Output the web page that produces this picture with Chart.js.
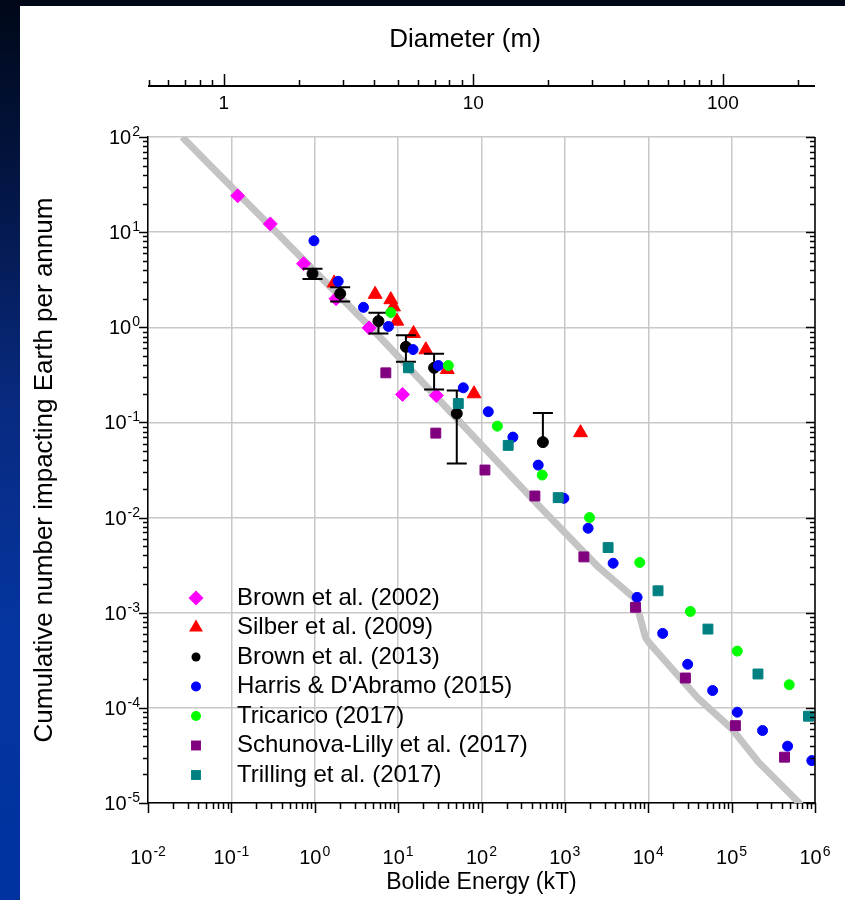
<!DOCTYPE html>
<html>
<head>
<meta charset="utf-8">
<script src="https://cdn.jsdelivr.net/npm/chart.js@4.4.1/dist/chart.umd.min.js"></script>
<style>
  html, body { margin: 0; padding: 0; }
  body {
    width: 845px; height: 900px; overflow: hidden; position: relative;
    background: linear-gradient(to bottom, #000818 0%, #031543 20%, #082a80 45%, #0535a0 70%, #0033a0 100%);
  }
  #panel { position: absolute; left: 20px; top: 6px; width: 825px; height: 894px; background: #fff; }
  canvas { display: block; }
</style>
</head>
<body>
<div id="panel"><canvas id="chart" width="825" height="894"></canvas></div>
<script>
// Data (energy in kT, cumulative number per annum)
const brown2002E = [0.119, 0.293, 0.734, 1.80, 4.49, 11.3, 28.7];
const brown2002N = [24.1, 12.2, 4.66, 2.0, 0.986, 0.197, 0.192];

const silberE = [1.71, 5.3, 8.17, 8.8, 9.65, 15.3, 21.5, 38.9, 81.3, 1540];
const silberN = [2.92, 2.22, 1.95, 1.64, 1.16, 0.86, 0.58, 0.36, 0.20, 0.078];

const brown2013E = [0.94, 2.02, 5.81, 12.4, 27, 50.5, 545];
const brown2013N = [3.66, 2.26, 1.16, 0.623, 0.375, 0.124, 0.0621];
const brown2013Hi = [4.13, 2.63, 1.42, 0.824, 0.526, 0.217, 0.126];
const brown2013Lo = [3.22, 1.87, 0.859, 0.433, 0.222, 0.0369, 0.0621];

const harrisE = [0.978, 1.91, 3.84, 7.65, 15.1, 30.4, 60.5, 120.6, 238, 479, 973, 1900, 3790, 7345,
  14900, 29700, 59200, 117000, 235000, 469000, 916000];
const harrisN = [8.12, 3.04, 1.62, 1.02, 0.583, 0.396, 0.231, 0.1295, 0.0701, 0.0356, 0.01595, 0.00772,
  0.00331, 0.00145, 0.000606, 0.000287, 0.000152, 9.0e-5, 5.77e-5, 3.96e-5, 2.79e-5];

const tricaricoE = [8.18, 40, 155, 535, 1977, 7910, 32000, 117000, 491000];
const tricaricoN = [1.43, 0.396, 0.0914, 0.028, 0.0100, 0.00337, 0.00103, 0.000395, 0.000175];

const schunovaE = [7.12, 28.3, 110, 437, 1690, 7030, 27900, 111000, 431000];
const schunovaN = [0.332, 0.0772, 0.0316, 0.01686, 0.00386, 0.00114, 0.000206, 6.5e-5, 3.03e-5];

const trillingE = [13.3, 52.7, 209, 832, 3300, 13100, 52000, 207000, 836000];
const trillingN = [0.375, 0.158, 0.0574, 0.0162, 0.00484, 0.0017, 0.000673, 0.000227, 8.17e-5];

// grey model curve
const modelE = [0.0257, 5.92, 489, 2550, 7030, 7690, 9250, 10140, 40270, 100900, 210000, 634000, 728000];
const modelN = [100, 0.805, 0.01324, 0.00299, 0.00139, 0.00101, 0.00055, 0.000488, 0.000124, 6.0e-5, 2.69e-5, 1.02e-5, 8.7e-6];

const seriesNames = ["Brown et al. (2002)", "Silber et al. (2009)", "Brown et al. (2013)",
  "Harris & D'Abramo (2015)", "Tricarico (2017)", "Schunova-Lilly et al. (2017)", "Trilling et al. (2017)"];
const seriesColors = ["#ff00ff", "#ff0000", "#000000", "#0000ff", "#00ff00", "#800080", "#008080"];
const seriesStyles = ["rectRot", "triangle", "circle", "circle", "circle", "rect", "rect"];

const xTickExps = [-2, -1, 0, 1, 2, 3, 4, 5, 6];
const yTickExps = [-5, -4, -3, -2, -1, 0, 1, 2];
const diameterMin = 0.497;
const diameterMax = 234;
const diameterTickLabels = [1, 10, 100];

const FONT = '"Liberation Sans", Arial, sans-serif';
Chart.defaults.font.family = FONT;
Chart.defaults.color = "#000";

const pts = (xs, ys) => xs.map((x, i) => ({ x: x, y: ys[i] }));

const isDecade = (v) => Math.abs(Math.log10(v) - Math.round(Math.log10(v))) < 1e-9;

// 1..9 x 10^e ticks across the decades
const decadeTicks = (exps) => {
  let out = [];
  for (let i = 0; i < exps.length; i++) {
    const base = Math.pow(10, exps[i]);
    out.push({ value: base });
    if (i < exps.length - 1) {
      for (let m = 2; m <= 9; m++) out.push({ value: m * base });
    }
  }
  return out;
};

const gridColor = (ctx) => (ctx.tick && isDecade(ctx.tick.value) ? "#c8c8c8" : "rgba(0,0,0,0)");

// "10" with a raised exponent
const drawPow = (ctx, v, x, y, align) => {
  const base = "10";
  const sup = String(Math.round(Math.log10(v)));
  ctx.font = "20px " + FONT;
  const wb = ctx.measureText(base).width;
  ctx.font = "14px " + FONT;
  const ws = ctx.measureText(sup).width;
  const x0 = align === "right" ? x - wb - ws - 1 : x - (wb + ws + 1) / 2;
  ctx.textAlign = "left";
  ctx.textBaseline = "alphabetic";
  ctx.font = "20px " + FONT;
  ctx.fillText(base, x0, y);
  ctx.font = "14px " + FONT;
  ctx.fillText(sup, x0 + wb + 1, y - 8);
};

const drawMarker = (ctx, style, x, y, r, color) => {
  ctx.fillStyle = color;
  ctx.beginPath();
  if (style === "circle") {
    ctx.arc(x, y, r, 0, Math.PI * 2);
  } else if (style === "rect") {
    const s = r * Math.SQRT1_2;
    ctx.rect(x - s, y - s, 2 * s, 2 * s);
  } else if (style === "rectRot") {
    ctx.moveTo(x, y - r); ctx.lineTo(x + r, y); ctx.lineTo(x, y + r); ctx.lineTo(x - r, y);
    ctx.closePath();
  } else if (style === "triangle") {
    for (let k = 0; k < 3; k++) {
      const a = k * 2 * Math.PI / 3;
      const px = x + Math.sin(a) * r, py = y - Math.cos(a) * r;
      if (k === 0) ctx.moveTo(px, py); else ctx.lineTo(px, py);
    }
    ctx.closePath();
  }
  ctx.fill();
};

// error bars for Brown et al. (2013), drawn just under its points
const errorBars = {
  id: "errorBars",
  beforeDatasetDraw(chart, args) {
    if (chart.data.datasets[args.index].label !== seriesNames[2]) return;
    const ctx = chart.ctx, x = chart.scales.x, y = chart.scales.y;
    ctx.save();
    ctx.strokeStyle = "#000";
    ctx.lineWidth = 2;
    brown2013E.forEach((e, i) => {
      const px = x.getPixelForValue(e);
      const yHi = y.getPixelForValue(brown2013Hi[i]);
      const yLo = y.getPixelForValue(brown2013Lo[i]);
      ctx.beginPath();
      ctx.moveTo(px, yHi); ctx.lineTo(px, yLo);
      ctx.moveTo(px - 10, yHi); ctx.lineTo(px + 10, yHi);
      if (brown2013Lo[i] < brown2013N[i]) { ctx.moveTo(px - 10, yLo); ctx.lineTo(px + 10, yLo); }
      ctx.stroke();
    });
    ctx.restore();
  }
};

// tick marks, tick labels, right frame line and the diameter axis on top
const axisMarks = {
  id: "axisMarks",
  afterDraw(chart) {
    const ctx = chart.ctx, ca = chart.chartArea;
    const x = chart.scales.x, y = chart.scales.y, x2 = chart.scales.x2;
    ctx.save();
    ctx.strokeStyle = "#000";
    ctx.lineWidth = 1.5;
    ctx.beginPath();
    ctx.moveTo(ca.right, ca.top); ctx.lineTo(ca.right, ca.bottom);
    y.ticks.forEach((t) => {
      const py = Math.round(y.getPixelForValue(t.value)) + 0.5;
      const len = isDecade(t.value) ? 9 : 5;
      ctx.moveTo(ca.left - len, py); ctx.lineTo(ca.left, py);
      ctx.moveTo(ca.right - len, py); ctx.lineTo(ca.right, py);
    });
    x.ticks.forEach((t) => {
      const px = Math.round(x.getPixelForValue(t.value)) + 0.5;
      const len = isDecade(t.value) ? 10 : 6;
      ctx.moveTo(px, ca.bottom); ctx.lineTo(px, ca.bottom + len);
    });
    ctx.stroke();

    ctx.fillStyle = "#000";
    y.ticks.forEach((t) => {
      if (isDecade(t.value)) drawPow(ctx, t.value, ca.left - 8, y.getPixelForValue(t.value) + 7, "right");
    });
    x.ticks.forEach((t) => {
      if (isDecade(t.value)) drawPow(ctx, t.value, x.getPixelForValue(t.value), 858, "center");
    });

    // top axis (diameter, m)
    const yTop = 80;
    ctx.lineWidth = 2;
    ctx.beginPath();
    ctx.moveTo(ca.left, yTop); ctx.lineTo(ca.right, yTop);
    ctx.stroke();
    ctx.lineWidth = 1.5;
    ctx.beginPath();
    decadeTicks([-1, 0, 1, 2, 3]).forEach((t) => {
      const px = x2.getPixelForValue(t.value);
      if (px < ca.left - 0.5 || px > ca.right + 0.5) return;
      const len = isDecade(t.value) ? 12 : 6;
      ctx.moveTo(Math.round(px) + 0.5, yTop); ctx.lineTo(Math.round(px) + 0.5, yTop - len);
    });
    ctx.stroke();
    ctx.textAlign = "center";
    ctx.textBaseline = "middle";
    ctx.font = "19px " + FONT;
    diameterTickLabels.forEach((d) => ctx.fillText(String(d), x2.getPixelForValue(d), 98));
    ctx.font = "26px " + FONT;
    ctx.fillText("Diameter (m)", 445, 34);
    ctx.restore();
  }
};

const insideLegend = {
  id: "insideLegend",
  afterDraw(chart) {
    const ctx = chart.ctx;
    const sizes = [7.5, 8, 4.5, 5, 5, 7, 7];
    ctx.save();
    ctx.font = "24px " + FONT;
    ctx.textBaseline = "middle";
    ctx.textAlign = "left";
    seriesNames.forEach((name, i) => {
      const yy = 592 + i * 29.5;
      drawMarker(ctx, seriesStyles[i], 176, yy, sizes[i], seriesColors[i]);
      ctx.fillStyle = "#000";
      ctx.fillText(name, 217, yy);
    });
    ctx.restore();
  }
};

const series = [
  [brown2002E, brown2002N, 7, 7],
  [silberE, silberN, 8, 6],
  [brown2013E, brown2013N, 5.5, 5],
  [harrisE, harrisN, 5, 4],
  [tricaricoE, tricaricoN, 5, 3],
  [schunovaE, schunovaN, 7, 2],
  [trillingE, trillingN, 7, 1]
];

const datasets = series.map((s, i) => ({
  label: seriesNames[i],
  data: pts(s[0], s[1]),
  pointStyle: seriesStyles[i],
  pointRadius: s[2],
  pointBackgroundColor: seriesColors[i],
  pointBorderColor: seriesColors[i],
  pointBorderWidth: 1,
  order: s[3]
}));

datasets.push({
  label: "model",
  data: pts(modelE, modelN),
  showLine: true,
  pointRadius: 0,
  borderColor: "#c4c4c4",
  borderWidth: 7,
  borderJoinStyle: "round",
  order: 10
});

new Chart(document.getElementById("chart"), {
  type: "scatter",
  data: { datasets: datasets },
  options: {
    responsive: false,
    animation: false,
    devicePixelRatio: 1,
    layout: { padding: { top: 131, right: 30, left: 0, bottom: 0 } },
    plugins: { legend: { display: false }, tooltip: { enabled: false } },
    scales: {
      x: {
        type: "logarithmic",
        position: "bottom",
        min: 0.01,
        max: 1e6,
        afterBuildTicks: (s) => { s.ticks = decadeTicks(xTickExps); },
        afterFit: (s) => { s.height = 97; },
        grid: { color: gridColor, lineWidth: 1.5, drawTicks: false },
        border: { color: "#000", width: 1.5 },
        ticks: { display: false },
        title: { display: true, text: "Bolide Energy (kT)", color: "#000", font: { size: 23 }, padding: { top: 0, bottom: 4 } }
      },
      x2: {
        type: "logarithmic",
        position: "top",
        min: diameterMin,
        max: diameterMax,
        afterFit: (s) => { s.height = 0; },
        ticks: { display: false },
        grid: { display: false },
        border: { display: false }
      },
      y: {
        type: "logarithmic",
        position: "left",
        min: 1e-5,
        max: 100,
        afterBuildTicks: (s) => { s.ticks = decadeTicks(yTickExps); },
        afterFit: (s) => { s.width = 128; },
        grid: { color: gridColor, lineWidth: 1.5, drawTicks: false },
        border: { color: "#000", width: 1.5 },
        ticks: { display: false },
        title: {
          display: true, text: "Cumulative number impacting Earth per annum", color: "#000",
          font: { size: 26 }, padding: { top: 9, bottom: 0 }
        }
      }
    }
  },
  plugins: [errorBars, axisMarks, insideLegend]
});
</script>
</body>
</html>
